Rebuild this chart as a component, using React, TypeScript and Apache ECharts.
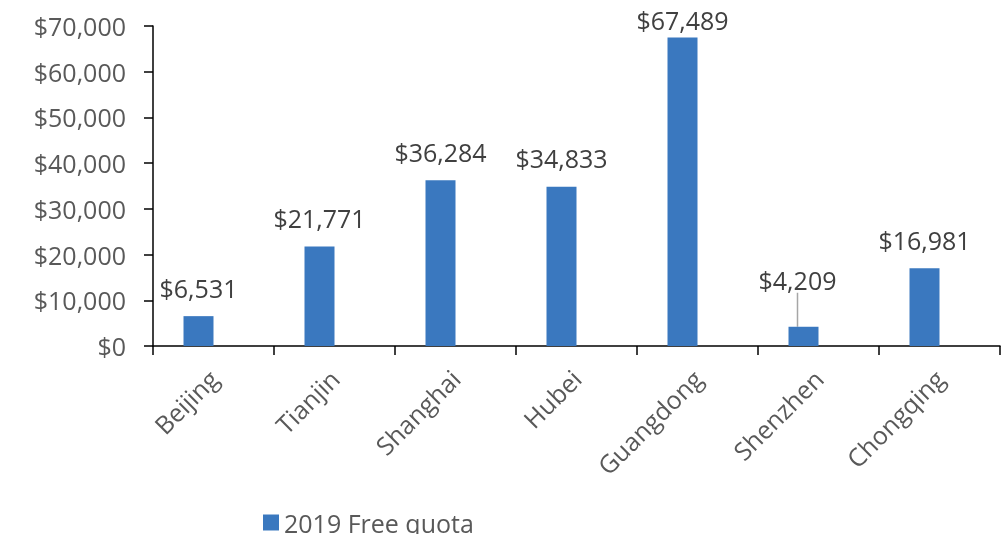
import React, { useEffect, useRef } from "react";
import * as echarts from "echarts";

const categories = ["Beijing", "Tianjin", "Shanghai", "Hubei", "Guangdong", "Shenzhen", "Chongqing"];
const freeQuota = [6531, 21771, 36284, 34833, 67489, 4209, 16981];
const hiddenSeries = [null, null, null, null, null, null, null];
const yTicks = [0, 10000, 20000, 30000, 40000, 50000, 60000, 70000];
const movedLabelIndex = 5;

const fmt = (v: number) => "$" + v.toLocaleString("en-US");
const FONT = "Open Sans";

export default function App() {
  const ref = useRef<HTMLDivElement>(null);
  useEffect(() => {
    if (!ref.current) return;
    const chart = echarts.init(ref.current, undefined, { renderer: "svg" });
    chart.setOption({
      animation: false,
      textStyle: { fontFamily: FONT },
      legend: {
        data: ["2019 Free quota"],
        left: 258,
        top: 505,
        itemWidth: 16,
        itemHeight: 16,
        icon: "rect",
        textStyle: { fontFamily: FONT, fontSize: 25, color: "#595959" },
      },
      grid: { left: 153, right: 2, top: 26, bottom: 188, outerBoundsMode: "none", containLabel: false },
      xAxis: {
        type: "category",
        data: categories,
        axisLine: { lineStyle: { color: "#000", width: 1.5 } },
        axisTick: { show: true, length: 9, lineStyle: { color: "#000", width: 1.5 } },
        axisLabel: { rotate: 45, fontFamily: FONT, fontSize: 25, color: "#595959", margin: 28, interval: 0 },
      },
      yAxis: {
        type: "value",
        min: yTicks[0],
        max: yTicks[yTicks.length - 1],
        interval: 10000,
        splitLine: { show: false },
        axisLine: { show: true, lineStyle: { color: "#000", width: 1.5 } },
        axisTick: { show: true, length: 9, lineStyle: { color: "#000", width: 1.5 } },
        axisLabel: { fontFamily: FONT, fontSize: 25, color: "#595959", margin: 27, formatter: (v: number) => fmt(v) },
      },
      series: [
        {
          name: "2019 Free quota",
          type: "bar",
          data: freeQuota.map((v, i) =>
            i === movedLabelIndex ? { value: v, labelLine: { show: true } } : { value: v }
          ),
          barWidth: 30,
          barGap: "0%",
          itemStyle: { color: "#3a78bf" },
          label: {
            show: true,
            position: "top",
            distance: 16,
            fontFamily: FONT,
            fontSize: 25,
            color: "#404040",
            formatter: (p: any) => fmt(p.value),
          },
          labelLine: { show: false, lineStyle: { color: "#a6a6a6", width: 1.5 } },
          labelLayout: (p: any) => {
            if (p.dataIndex === movedLabelIndex) return { dx: -6, dy: -18 };
            const minTop = 7;
            if (p.labelRect && p.labelRect.y < minTop) return { dy: minTop - p.labelRect.y };
            return {};
          },
        },
        {
          name: "hidden",
          type: "bar",
          data: hiddenSeries,
          barWidth: 30,
          barGap: "0%",
          itemStyle: { color: "#e07b39" },
        },
      ],
    });
    return () => chart.dispose();
  }, []);
  return <div ref={ref} style={{ position: "fixed", left: 0, top: 0, width: 1002, height: 534 }} />;
}
